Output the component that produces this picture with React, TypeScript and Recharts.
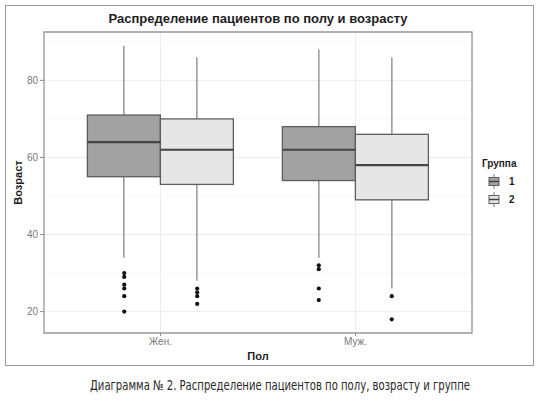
import { Bar, CartesianGrid, ComposedChart, Label, ReferenceArea, Scatter, XAxis, YAxis } from 'recharts';

const categories = ['Жен.', 'Муж.'];
const groups = ['1', '2'];

// group 1
const low1 = [34, 34];
const q1g1 = [55, 54];
const med1 = [64, 62];
const q3g1 = [71, 68];
const high1 = [89, 88];
const outliers1 = [
    [30, 29, 27, 26, 24, 20],
    [32, 31, 26, 23],
];

// group 2
const low2 = [28, 26];
const q1g2 = [53, 49];
const med2 = [62, 58];
const q3g2 = [70, 66];
const high2 = [86, 86];
const outliers2 = [
    [26, 25, 24, 22],
    [24, 18],
];

const yTicks = [20, 40, 60, 80];
const yMinor = [30, 50, 70, 90];
const yDomain = [14.45, 92.55];

const fills = ['#a2a2a2', '#e6e6e6'];
const font = '"Liberation Sans", Arial, sans-serif';
const dodge = 0.1875;
const pad = { left: 19, right: 19 };

const data = categories.map((cat, i) => ({
    cat,
    w1: [low1[i], high1[i]],
    b1: [q1g1[i], q3g1[i]],
    m1: [q1g1[i], med1[i]],
    w2: [low2[i], high2[i]],
    b2: [q1g2[i], q3g2[i]],
    m2: [q1g2[i], med2[i]],
}));

const outlierPoints = [outliers1, outliers2].flatMap((outs, g) =>
    categories.flatMap((_, i) => outs[i].map((v) => ({ x: i + 1 + (g === 0 ? -dodge : dodge), y: v }))),
);

const Whisker = (p: any) => {
    const top = Math.min(p.y, p.y + p.height);
    const bottom = Math.max(p.y, p.y + p.height);
    const cx = p.x + p.width / 2;
    return <line x1={cx} x2={cx} y1={top} y2={bottom} stroke="#7c7c7c" strokeWidth={1.2} />;
};

const Box = (p: any) => {
    const top = Math.min(p.y, p.y + p.height);
    return <rect x={p.x} y={top} width={p.width} height={Math.abs(p.height)} fill={p.fill} stroke="#5e5e5e" strokeWidth={1.3} />;
};

const Median = (p: any) => {
    const top = Math.min(p.y, p.y + p.height);
    return <line x1={p.x} x2={p.x + p.width} y1={top} y2={top} stroke="#454545" strokeWidth={2.2} />;
};

const Dot = (p: any) => <circle cx={p.cx} cy={p.cy} r={2.1} fill="#111" />;

function LegendIcon({ fill }: { fill: string }) {
    return (
        <svg width={12} height={17} style={{ display: 'block' }}>
            <line x1={6} x2={6} y1={1} y2={16} stroke="#7c7c7c" strokeWidth={1} />
            <rect x={1} y={4.5} width={10} height={8} fill={fill} stroke="#5e5e5e" strokeWidth={1} />
            <line x1={1} x2={11} y1={8.5} y2={8.5} stroke="#454545" strokeWidth={1.5} />
        </svg>
    );
}

export default function App() {
    return (
        <div style={{ position: 'relative', width: 538, height: 415, background: '#fff', fontFamily: font }}>
            <style>{'body{margin:0}'}</style>
            <div style={{ position: 'absolute', left: 5, top: 5, width: 527, height: 359, border: '1.5px solid #9a9a9a' }} />
            <div style={{ position: 'absolute', left: 44, top: 11, width: 428, textAlign: 'center', fontSize: 13, fontWeight: 'bold', color: '#1e1e1e', lineHeight: '16px' }}>
                Распределение пациентов по полу и возрасту
            </div>
            <div style={{ position: 'absolute', left: 0, top: 0 }}>
                <ComposedChart width={538} height={367} data={data} margin={{ top: 32, right: 66, bottom: 4, left: 0 }} barCategoryGap="12.5%" barGap={0}>
                    <CartesianGrid xAxisId="cat" stroke="#ececec" strokeWidth={1} />
                    <CartesianGrid xAxisId="cat" vertical={false} horizontalValues={yMinor} stroke="#f4f4f4" strokeWidth={0.6} />
                    <XAxis xAxisId="cat" dataKey="cat" padding={pad} tickSize={3} axisLine={false} tickLine={{ stroke: '#8a8a8a' }} tick={{ fontSize: 10, fill: '#7a7a7a', fontFamily: font }} height={30}>
                        <Label value="Пол" position="insideBottom" offset={3} style={{ fontSize: 11, fontWeight: 'bold', fill: '#1e1e1e', fontFamily: font }} />
                    </XAxis>
                    <XAxis xAxisId="box" dataKey="cat" padding={pad} height={0} hide />
                    <XAxis xAxisId="med" dataKey="cat" padding={pad} height={0} hide />
                    <XAxis xAxisId="num" type="number" dataKey="x" domain={[0.4, 2.6]} allowDataOverflow height={0} hide />
                    <YAxis type="number" domain={yDomain} ticks={yTicks} allowDataOverflow width={44} tickSize={4} axisLine={false} tickLine={{ stroke: '#8a8a8a' }} tick={{ fontSize: 10, fill: '#7a7a7a', fontFamily: font }}>
                        <Label value="Возраст" angle={-90} position="insideLeft" offset={18} style={{ fontSize: 11, fontWeight: 'bold', fill: '#1e1e1e', fontFamily: font, textAnchor: 'middle' }} />
                    </YAxis>
                    <Bar xAxisId="cat" dataKey="w1" shape={Whisker} isAnimationActive={false} />
                    <Bar xAxisId="cat" dataKey="w2" shape={Whisker} isAnimationActive={false} />
                    <Bar xAxisId="box" dataKey="b1" fill={fills[0]} shape={Box} isAnimationActive={false} />
                    <Bar xAxisId="box" dataKey="b2" fill={fills[1]} shape={Box} isAnimationActive={false} />
                    <Bar xAxisId="med" dataKey="m1" shape={Median} isAnimationActive={false} />
                    <Bar xAxisId="med" dataKey="m2" shape={Median} isAnimationActive={false} />
                    <Scatter xAxisId="num" data={outlierPoints} dataKey="y" shape={Dot} isAnimationActive={false} />
                    <ReferenceArea xAxisId="num" x1={0.4} x2={2.6} y1={yDomain[0]} y2={yDomain[1]} fill="none" stroke="#9a9a9a" strokeWidth={1.3} ifOverflow="visible" />
                </ComposedChart>
            </div>
            <div style={{ position: 'absolute', left: 482, top: 158, fontSize: 10, fontWeight: 'bold', color: '#1e1e1e' }}>
                <div style={{ marginBottom: 3 }}>Группа</div>
                {groups.map((g, i) => (
                    <div key={g} style={{ display: 'flex', alignItems: 'center', height: 18, marginLeft: 6 }}>
                        <LegendIcon fill={fills[i]} />
                        <span style={{ marginLeft: 9 }}>{g}</span>
                    </div>
                ))}
            </div>
            <div style={{ position: 'absolute', left: 0, top: 377, width: 560, textAlign: 'center', fontSize: 13.5, color: '#2a2a2a', fontFamily: '"Liberation Sans Narrow", "DejaVu Sans Condensed", sans-serif', transform: 'scaleX(0.83)', transformOrigin: '280px 0' }}>
                Диаграмма № 2. Распределение пациентов по полу, возрасту и группе
            </div>
        </div>
    );
}
